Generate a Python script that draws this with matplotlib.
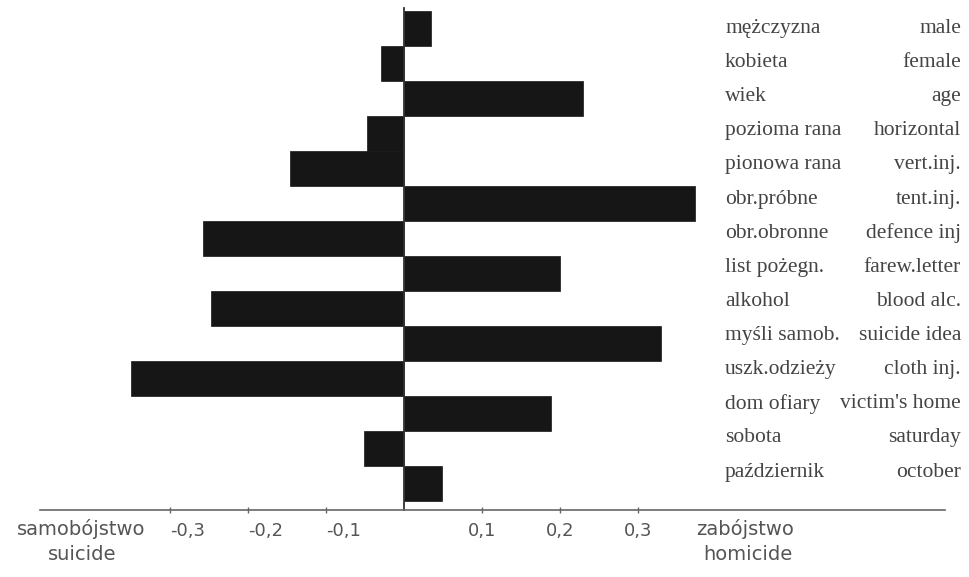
import matplotlib
matplotlib.use("Agg")
import matplotlib.pyplot as plt
import matplotlib.transforms as mtransforms
import numpy as np

# ---- data ----
labels_pl = ["mężczyzna", "kobieta", "wiek", "pozioma rana", "pionowa rana",
             "obr.próbne", "obr.obronne", "list pożegn.", "alkohol",
             "myśli samob.", "uszk.odzieży", "dom ofiary", "sobota", "październik"]
labels_en = ["male", "female", "age", "horizontal", "vert.inj.",
             "tent.inj.", "defence inj", "farew.letter", "blood alc.",
             "suicide idea", "cloth inj.", "victim's home", "saturday", "october"]
values = [0.035, -0.029, 0.229, -0.047, -0.146,
          0.373, -0.258, 0.200, -0.247,
          0.330, -0.350, 0.189, -0.051, 0.049]
tick_vals = [-0.3, -0.2, -0.1, 0.1, 0.2, 0.3]
tick_labels = ["-0,3", "-0,2", "-0,1", "0,1", "0,2", "0,3"]

W, H = 969, 577
fig = plt.figure(figsize=(W / 100, H / 100), dpi=100)

# pixel geometry of axes
px_left, px_right, py_top, py_bottom = 40, 945, 8, 510
px_zero, px_per_unit = 404, 780.0
py_first, py_step = 28.4, 35.0

ax = fig.add_axes([px_left / W, 1 - py_bottom / H,
                   (px_right - px_left) / W, (py_bottom - py_top) / H])
ax.set_xlim((px_left - px_zero) / px_per_unit, (px_right - px_zero) / px_per_unit)
ax.set_ylim((py_bottom - py_first) / py_step, (py_top - py_first) / py_step)

ypos = np.arange(len(values))
ax.barh(ypos, values, height=1.0, color="#161616", edgecolor="#161616", linewidth=0.5)

for s in ["top", "right"]:
    ax.spines[s].set_visible(False)
ax.spines["left"].set_position(("data", 0))
ax.spines["left"].set_color("#333333")
ax.spines["left"].set_linewidth(1.3)
ax.spines["bottom"].set_color("#666666")
ax.spines["bottom"].set_linewidth(1.2)
ax.set_yticks([])
ax.set_xticks(tick_vals)
ax.set_xticklabels(tick_labels)
ax.tick_params(axis="x", direction="inout", length=4, width=1, color="#666666",
               labelsize=13, labelcolor="#555555", pad=7)
# negative tick labels sit a little right of their marks in the original
for v, lab in zip(tick_vals, ax.get_xticklabels()):
    if v < 0:
        lab.set_transform(lab.get_transform() +
                          mtransforms.ScaledTranslation(18 / 100, 0, fig.dpi_scale_trans))

# axis end labels
sans_kw = dict(ha="center", va="center", fontsize=14, color="#555555")
fig.text(81 / W, 1 - 529 / H, "samobójstwo", **sans_kw)
fig.text(82 / W, 1 - 555 / H, "suicide", **sans_kw)
fig.text(745 / W, 1 - 529 / H, "zabójstwo", **sans_kw)
fig.text(748 / W, 1 - 555 / H, "homicide", **sans_kw)

# right side category labels, aligned with the bars (slightly compressed)
trans = mtransforms.blended_transform_factory(fig.transFigure, ax.transData)
for i, (pl, en) in enumerate(zip(labels_pl, labels_en)):
    yl = i * 0.975
    fig.text(725 / W, yl, pl, ha="left", va="center", fontsize=15.5,
             family="Liberation Serif", color="#444444", transform=trans)
    fig.text(961 / W, yl, en, ha="right", va="center", fontsize=15.5,
             family="Liberation Serif", color="#444444", transform=trans)

fig.savefig("out.png", dpi=100)
